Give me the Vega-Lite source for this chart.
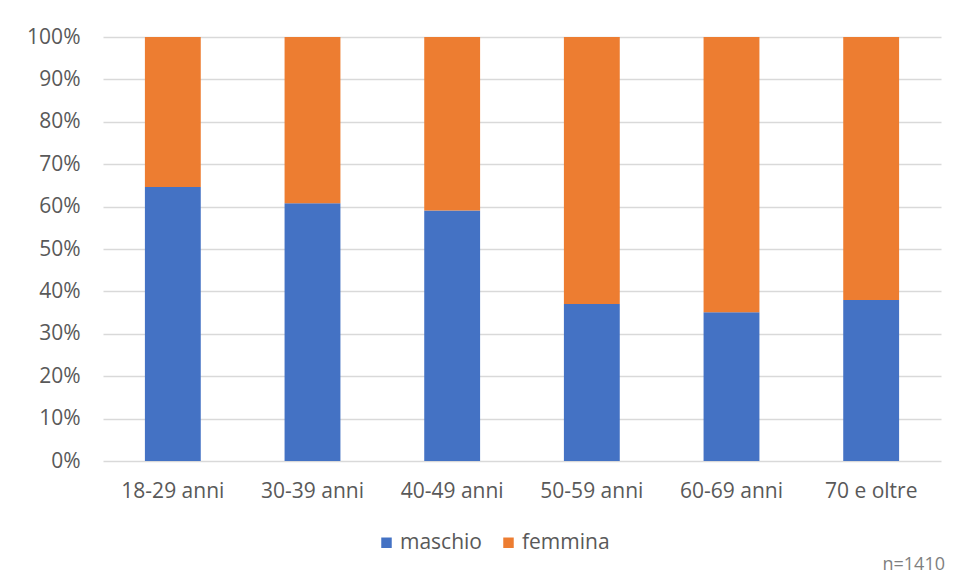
{
  "$schema": "https://vega.github.io/schema/vega-lite/v6.json",
  "autosize": "none",
  "width": 838,
  "height": 424,
  "padding": {"left": 103, "top": 37, "right": 16, "bottom": 120},
  "background": "white",
  "data": {
    "values": [
      {"eta": "18-29 anni", "sesso": "maschio", "quota": 0.646},
      {"eta": "18-29 anni", "sesso": "femmina", "quota": 0.354},
      {"eta": "30-39 anni", "sesso": "maschio", "quota": 0.608},
      {"eta": "30-39 anni", "sesso": "femmina", "quota": 0.392},
      {"eta": "40-49 anni", "sesso": "maschio", "quota": 0.591},
      {"eta": "40-49 anni", "sesso": "femmina", "quota": 0.409},
      {"eta": "50-59 anni", "sesso": "maschio", "quota": 0.370},
      {"eta": "50-59 anni", "sesso": "femmina", "quota": 0.630},
      {"eta": "60-69 anni", "sesso": "maschio", "quota": 0.351},
      {"eta": "60-69 anni", "sesso": "femmina", "quota": 0.649},
      {"eta": "70 e oltre", "sesso": "maschio", "quota": 0.380},
      {"eta": "70 e oltre", "sesso": "femmina", "quota": 0.620}
    ]
  },
  "title": {
    "text": "n=1410",
    "orient": "bottom",
    "anchor": "end",
    "font": "Open Sans",
    "fontSize": 18,
    "fontWeight": "normal",
    "color": "#7F7F7F",
    "offset": 3,
    "dx": 4
  },
  "transform": [
    {"calculate": "indexof(['maschio', 'femmina'], datum.sesso)", "as": "pila"}
  ],
  "mark": {"type": "bar"},
  "encoding": {
    "x": {
      "field": "eta",
      "type": "nominal",
      "sort": null,
      "title": null,
      "scale": {"paddingInner": 0.6, "paddingOuter": 0.3},
      "axis": {
        "labelAngle": 0,
        "labelFont": "Open Sans",
        "labelFontSize": 21,
        "labelColor": "#595959",
        "labelPadding": 19,
        "ticks": false,
        "tickSize": 0,
        "domain": false
      }
    },
    "y": {
      "field": "quota",
      "type": "quantitative",
      "stack": "zero",
      "title": null,
      "scale": {"domain": [0, 1], "nice": false},
      "axis": {
        "values": [0, 0.1, 0.2, 0.3, 0.4, 0.5, 0.6, 0.7, 0.8, 0.9, 1],
        "format": ".0%",
        "labelFont": "Open Sans",
        "labelFontSize": 21,
        "labelColor": "#595959",
        "labelPadding": 23,
        "ticks": false,
        "tickSize": 0,
        "domain": false,
        "grid": true,
        "gridColor": "#D9D9D9",
        "gridWidth": 1.3
      }
    },
    "color": {
      "field": "sesso",
      "type": "nominal",
      "title": null,
      "scale": {"domain": ["maschio", "femmina"], "range": ["#4472C4", "#ED7D31"]},
      "legend": {
        "orient": "none",
        "direction": "horizontal",
        "legendX": 273,
        "legendY": 495,
        "symbolType": "square",
        "symbolSize": 110,
        "symbolStrokeWidth": 0,
        "symbolOpacity": 1,
        "labelFont": "Open Sans",
        "labelFontSize": 21,
        "labelColor": "#595959",
        "labelOffset": 3,
        "columnPadding": 16
      }
    },
    "order": {"field": "pila", "type": "quantitative"}
  },
  "config": {
    "view": {"stroke": null}
  }
}
